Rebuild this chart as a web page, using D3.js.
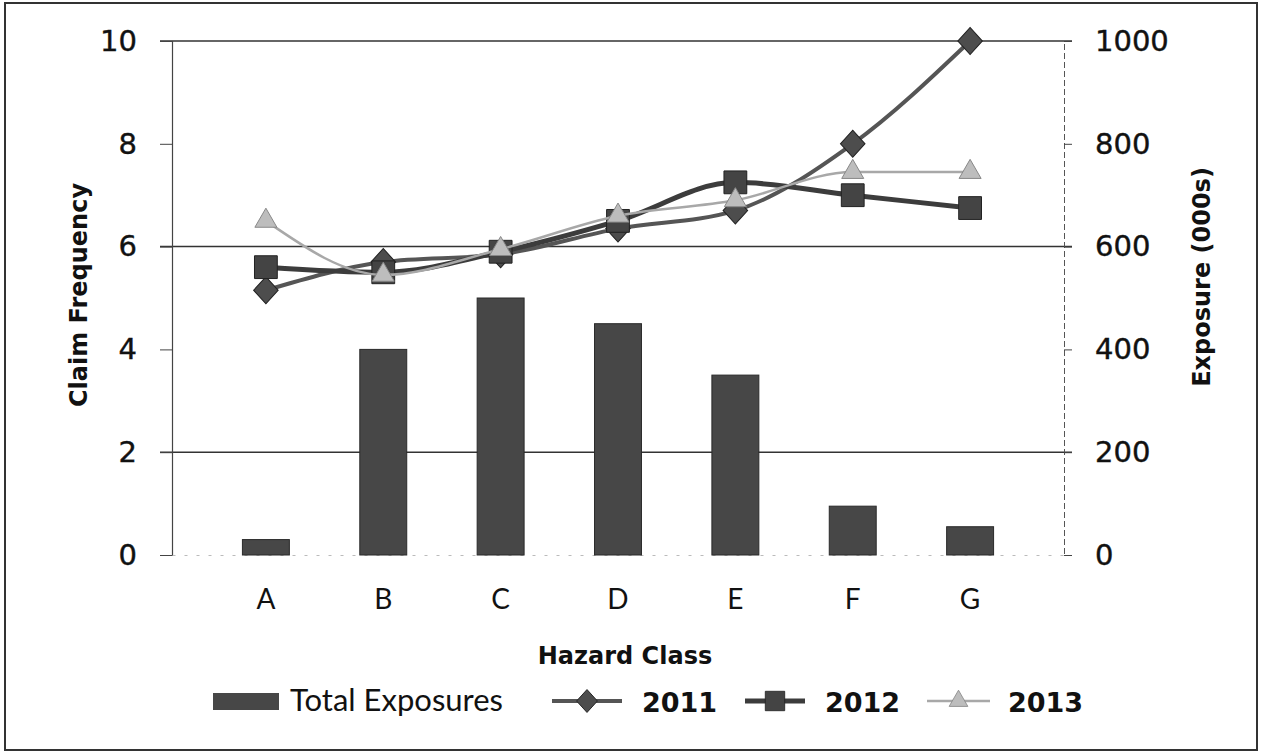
<!DOCTYPE html>
<html>
<head>
<meta charset="utf-8">
<script src="https://cdn.jsdelivr.net/npm/d3@7"></script>
<style>
  body { margin: 0; background: #fff; }
  text { font-family: Lato, "Open Sans", sans-serif; fill: #111; }
</style>
</head>
<body>
<div id="chart"></div>
<script>
// data
var categories = ["A", "B", "C", "D", "E", "F", "G"];
var exposures = [30, 400, 500, 450, 350, 95, 55];
var freq2011 = [5.15, 5.7, 5.85, 6.35, 6.7, 8.0, 10.0];
var freq2012 = [5.6, 5.5, 5.9, 6.5, 7.25, 7.0, 6.75];
var freq2013 = [6.5, 5.45, 5.95, 6.6, 6.9, 7.45, 7.45];
var leftTicks = [0, 2, 4, 6, 8, 10];
var rightTicks = [0, 200, 400, 600, 800, 1000];
var gridTicks = [2, 6, 10];

var W = 1262, H = 755;
var margin = { top: 41, right: 198, bottom: 200, left: 172 };
var width = W - margin.left - margin.right,
  height = H - margin.top - margin.bottom;

var numFont = "'DejaVu Sans', Verdana, sans-serif";

var root = d3.select("#chart").append("svg")
  .attr("width", W).attr("height", H);

// outer frame
root.append("rect")
  .attr("x", 5).attr("y", 3).attr("width", W - 10).attr("height", H - 8)
  .attr("fill", "#fff").attr("stroke", "#333").attr("stroke-width", 2);

var svg = root.append("g")
  .attr("transform", "translate(" + margin.left + "," + margin.top + ")");

var x = d3.scaleBand().domain(categories).range([0, width]).padding(0.6);
var xc = function (c) { return x(c) + x.bandwidth() / 2; };
var y = d3.scaleLinear().domain([0, 10]).range([height, 0]);
var y2 = d3.scaleLinear().domain([0, 1000]).range([height, 0]);

// gridlines
svg.selectAll(".grid").data(gridTicks).enter().append("line")
  .attr("x1", -12).attr("x2", width + 8)
  .attr("y1", function (d) { return y(d); })
  .attr("y2", function (d) { return y(d); })
  .attr("stroke", "#333").attr("stroke-width", 1.5);

// left axis
var left = svg.append("g").call(d3.axisLeft(y).tickValues(leftTicks).tickSize(12).tickPadding(23));
left.select(".domain").attr("stroke", "#444").attr("stroke-width", 1.2);
left.selectAll(".tick line").attr("stroke", "#444");
left.selectAll("text").style("font-size", "29px").style("font-family", numFont)
  .attr("fill", "#111").attr("stroke", "#111").attr("stroke-width", 0.4);

// right axis
var right = svg.append("g").attr("transform", "translate(" + width + ",0)")
  .call(d3.axisRight(y2).tickValues(rightTicks).tickFormat(d3.format("d")).tickSize(8).tickPadding(23));
right.select(".domain").attr("stroke", "#555").attr("stroke-width", 1).attr("stroke-dasharray", "6,3");
right.selectAll(".tick line").attr("stroke", "#444");
right.selectAll("text").style("font-size", "29px").style("font-family", numFont)
  .attr("fill", "#111").attr("stroke", "#111").attr("stroke-width", 0.4);

// bottom axis (faint)
var bottom = svg.append("g").attr("transform", "translate(0," + height + ")")
  .call(d3.axisBottom(x).tickSize(0).tickPadding(34));
bottom.select(".domain").attr("stroke", "#bbb").attr("stroke-dasharray", "3,9");
bottom.selectAll("text").style("font-size", "28px").style("font-family", "Lato, sans-serif").attr("fill", "#111");

// bars
svg.selectAll(".bar").data(categories).enter().append("rect")
  .attr("x", function (d) { return x(d); })
  .attr("width", x.bandwidth())
  .attr("y", function (d, i) { return y2(exposures[i]); })
  .attr("height", function (d, i) { return height - y2(exposures[i]); })
  .attr("fill", "#474747").attr("stroke", "#2a2a2a").attr("stroke-width", 1);

// lines
var series = [
  { name: "2011", values: freq2011, color: "#555", width: 4, marker: "diamond", mcolor: "#4d4d4d", stroke: "#222" },
  { name: "2012", values: freq2012, color: "#3c3c3c", width: 5, marker: "square", mcolor: "#444", stroke: "#222" },
  { name: "2013", values: freq2013, color: "#a8a8a8", width: 2.5, marker: "triangle", mcolor: "#bdbdbd", stroke: "#888" }
];

function markerShape(m) {
  if (m === "diamond") return { d: d3.symbol().type(d3.symbolSquare).size(300)(), t: " rotate(45)", pre: " scale(1,1.1)" };
  if (m === "square") return { d: d3.symbol().type(d3.symbolSquare).size(520)(), t: "", pre: "" };
  return { d: d3.symbol().type(d3.symbolTriangle).size(210)(), t: "", pre: "" };
}

var line = d3.line().curve(d3.curveMonotoneX);

series.forEach(function (s) {
  var pts = categories.map(function (c, i) { return [xc(c), y(s.values[i])]; });
  svg.append("path").attr("d", line(pts))
    .attr("fill", "none").attr("stroke", s.color).attr("stroke-width", s.width);
  var ms = markerShape(s.marker);
  svg.selectAll(".m" + s.name).data(pts).enter().append("path")
    .attr("transform", function (p) { return "translate(" + p[0] + "," + p[1] + ")" + ms.pre + ms.t; })
    .attr("d", ms.d)
    .attr("fill", s.mcolor).attr("stroke", s.stroke).attr("stroke-width", 1);
});

// axis titles
root.append("text")
  .attr("transform", "translate(87," + (margin.top + height / 2 - 3) + ") rotate(-90)")
  .attr("text-anchor", "middle")
  .style("font-family", numFont)
  .style("font-size", "24px").style("font-weight", "bold")
  .text("Claim Frequency");

root.append("text")
  .attr("transform", "translate(1210,277) rotate(-90)")
  .attr("text-anchor", "middle")
  .style("font-family", numFont)
  .style("font-size", "24px").style("font-weight", "bold")
  .text("Exposure (000s)");

root.append("text")
  .attr("x", 625).attr("y", 664)
  .attr("text-anchor", "middle")
  .style("font-family", numFont)
  .style("font-size", "24px").style("font-weight", "bold")
  .text("Hazard Class");

// legend
var lg = root.append("g").attr("transform", "translate(0,701)");
lg.append("rect").attr("x", 213).attr("y", -8).attr("width", 66).attr("height", 17)
  .attr("fill", "#474747");
lg.append("text").attr("x", 290).attr("y", 10).style("font-size", "31px").text("Total Exposures");

var legendPos = [
  { s: series[0], x: 552, w: 70, tx: 642 },
  { s: series[1], x: 745, w: 60, tx: 825 },
  { s: series[2], x: 927, w: 63, tx: 1008 }
];
legendPos.forEach(function (p) {
  lg.append("line").attr("x1", p.x).attr("x2", p.x + p.w).attr("y1", 0).attr("y2", 0)
    .attr("stroke", p.s.color).attr("stroke-width", p.s.width);
  var ms = markerShape(p.s.marker);
  lg.append("path")
    .attr("transform", "translate(" + (p.x + p.w / 2) + ",0)" + ms.pre + ms.t + " scale(0.85)")
    .attr("d", ms.d)
    .attr("fill", p.s.mcolor).attr("stroke", p.s.stroke);
  lg.append("text").attr("x", p.tx).attr("y", 11)
    .style("font-family", numFont)
    .style("font-size", "27px").style("font-weight", "bold").text(p.s.name);
});
</script>
</body>
</html>
